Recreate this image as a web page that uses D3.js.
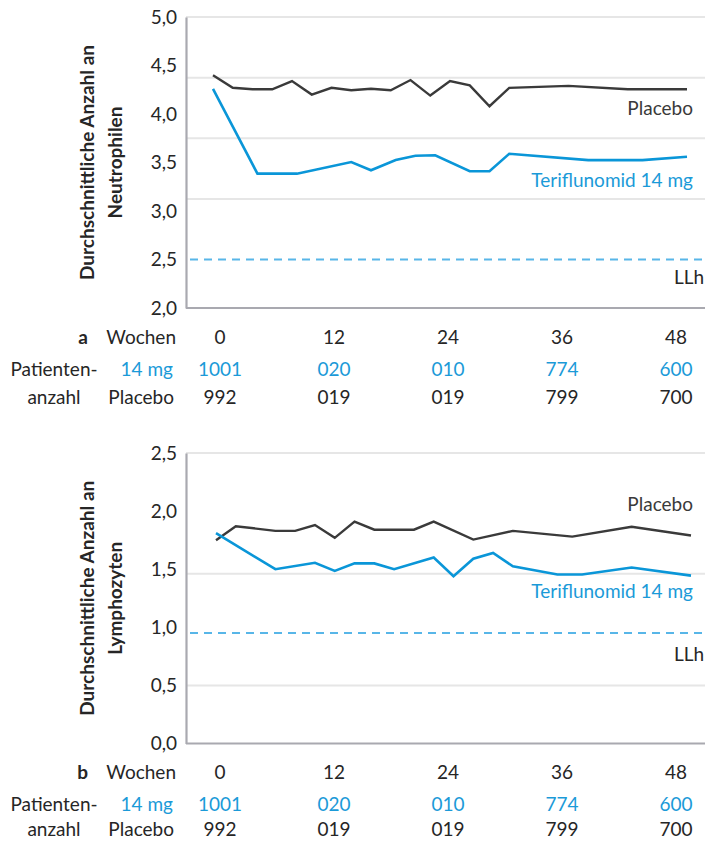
<!DOCTYPE html>
<html>
<head>
<meta charset="utf-8">
<script src="https://cdn.jsdelivr.net/npm/d3@7"></script>
<style>
  html, body { margin: 0; padding: 0; background: #fff; }
  svg { display: block; font-family: Lato, "Open Sans", sans-serif; }
</style>
</head>
<body>
<svg id="chart" width="705" height="841"></svg>
<script>
// Weeks listed in the patient-count table under each panel
const tableWeeks = [0, 12, 24, 36, 48];
const patients14mg = ["1001", "020", "010", "774", "600"];
const patientsPlacebo = ["992", "019", "019", "799", "700"];

// Panel a: mean neutrophil count
const neutroPlaceboWeeks = [0, 2, 4, 6, 8, 10, 12, 14, 16, 18, 20, 22, 24, 26, 28, 30, 36, 42, 48];
const neutroPlaceboValues = [4.40, 4.27, 4.255, 4.255, 4.34, 4.20, 4.27, 4.245, 4.26, 4.245, 4.35, 4.19, 4.34, 4.295, 4.08, 4.27, 4.29, 4.255, 4.255];
const neutroTeriWeeks = [0, 4.5, 8.5, 14, 16, 18.5, 20.5, 22.5, 26, 28, 30, 38, 43.5, 48];
const neutroTeriValues = [4.26, 3.385, 3.385, 3.505, 3.42, 3.525, 3.57, 3.575, 3.41, 3.41, 3.59, 3.525, 3.525, 3.56];
const neutroTicks = [2.0, 2.5, 3.0, 3.5, 4.0, 4.5, 5.0];
const neutroGrid = [3.125, 3.75, 4.375, 5.0];
const neutroLLN = 2.5;

// Panel b: mean lymphocyte count
const lymphoPlaceboWeeks = [0, 2, 6, 8, 10, 12, 14, 16, 20, 22, 26, 30, 36, 42, 48];
const lymphoPlaceboValues = [1.75, 1.87, 1.83, 1.83, 1.88, 1.77, 1.91, 1.84, 1.84, 1.91, 1.755, 1.83, 1.78, 1.865, 1.79];
const lymphoTeriWeeks = [0, 6, 10, 12, 14, 16, 18, 22, 24, 26, 28, 30, 34.5, 37, 42, 48];
const lymphoTeriValues = [1.81, 1.50, 1.555, 1.485, 1.55, 1.55, 1.50, 1.60, 1.44, 1.59, 1.64, 1.525, 1.455, 1.455, 1.515, 1.445];
const lymphoTicks = [0.0, 0.5, 1.0, 1.5, 2.0, 2.5];
const lymphoGrid = [0.5, 1.46, 2.5];
const lymphoLLN = 0.95;

const colors = {
  text: "#262626",
  blueText: "#1b9ad8",
  placebo: "#3a3a3a",
  teri: "#0a96d8",
  lln: "#58b6e8",
  axis: "#a9a9b0",
  grid: "#e6e6e6"
};

const de = d3.formatLocale({ decimal: ",", thousands: ".", grouping: [3], currency: ["", " €"] });
const fmt1 = de.format(".1f");

const svg = d3.select("#chart");
const W = 705;
const axisX = 186;
const FS = 19;
const tableX = d3.scaleLinear().domain([0, 48]).range([220, 676]);

function pairs(weeks, values) {
  return weeks.map((w, i) => ({ w, v: values[i] }));
}

function drawPanel(o) {
  const g = svg.append("g");
  const x = d3.scaleLinear().domain([0, 48]).range([o.x0, o.x48]);
  const y = d3.scaleLinear().domain(o.domain).range([o.bottom, o.top]);

  // horizontal grid
  g.append("g").selectAll("line").data(o.grid).join("line")
    .attr("x1", axisX).attr("x2", W)
    .attr("y1", d => y(d)).attr("y2", d => y(d))
    .attr("stroke", colors.grid).attr("stroke-width", 2);

  // lower limit of normal
  g.append("line")
    .attr("x1", axisX + 4).attr("x2", W)
    .attr("y1", y(o.lln)).attr("y2", y(o.lln))
    .attr("stroke", colors.lln).attr("stroke-width", 2)
    .attr("stroke-dasharray", "8,6");

  // baseline of the plot
  g.append("line")
    .attr("x1", axisX).attr("x2", W)
    .attr("y1", y(o.domain[0])).attr("y2", y(o.domain[0]))
    .attr("stroke", colors.axis).attr("stroke-width", 2.2);

  // value axis
  const ax = g.append("g").attr("transform", `translate(${axisX},0)`)
    .call(d3.axisLeft(y).tickValues(o.ticks).tickFormat(fmt1).tickSize(0).tickSizeOuter(0).tickPadding(9));
  ax.select(".domain").attr("stroke", colors.axis).attr("stroke-width", 2.2);
  ax.selectAll("text").attr("fill", colors.text).attr("font-size", FS).attr("font-family", "Lato, sans-serif");

  // series
  const line = d3.line().x(d => x(d.w)).y(d => y(d.v));
  g.append("path").datum(o.placebo).attr("d", line)
    .attr("fill", "none").attr("stroke", colors.placebo).attr("stroke-width", 2.4);
  g.append("path").datum(o.teri).attr("d", line)
    .attr("fill", "none").attr("stroke", colors.teri).attr("stroke-width", 2.6);

  // series labels
  g.append("text").attr("x", 693).attr("y", o.placeboLabelY).attr("text-anchor", "end")
    .attr("font-size", FS).attr("fill", colors.placebo).text("Placebo");
  g.append("text").attr("x", 693).attr("y", o.teriLabelY).attr("text-anchor", "end")
    .attr("font-size", FS).attr("fill", colors.blueText).text("Teriflunomid 14 mg");
  g.append("text").attr("x", 704).attr("y", o.llnLabelY).attr("text-anchor", "end")
    .attr("font-size", FS).attr("fill", colors.text).text("LLh");

  // y title, two lines
  const cy = (o.top + o.bottom) / 2;
  const t = g.append("text").attr("transform", `translate(94,${cy}) rotate(-90)`)
    .attr("text-anchor", "middle").attr("font-weight", 700).attr("font-size", 19).attr("fill", colors.text);
  t.append("tspan").attr("x", 0).attr("y", 0).text("Durchschnittliche Anzahl an");
  t.append("tspan").attr("x", 0).attr("y", 28).text(o.titleLine2);

  // week and patient-count table
  const tbl = g.append("g").attr("font-size", FS).attr("dominant-baseline", "central");
  const [r1, r2, r3] = o.rows;
  tbl.append("text").attr("x", 88).attr("y", r1).attr("text-anchor", "end")
    .attr("font-weight", 700).attr("fill", colors.text).text(o.letter);
  tbl.append("text").attr("x", 176).attr("y", r1).attr("text-anchor", "end")
    .attr("fill", colors.text).text("Wochen");
  tbl.append("text").attr("x", 54).attr("y", r2).attr("text-anchor", "middle")
    .attr("fill", colors.text).text("Patienten-");
  tbl.append("text").attr("x", 54).attr("y", r3).attr("text-anchor", "middle")
    .attr("fill", colors.text).text("anzahl");
  tbl.append("text").attr("x", 173).attr("y", r2).attr("text-anchor", "end")
    .attr("fill", colors.blueText).text("14 mg");
  tbl.append("text").attr("x", 174).attr("y", r3).attr("text-anchor", "end")
    .attr("fill", colors.text).text("Placebo");

  tbl.append("g").selectAll("text").data(tableWeeks).join("text")
    .attr("x", d => tableX(d)).attr("y", r1).attr("text-anchor", "middle")
    .attr("fill", colors.text).text(d => d);
  tbl.append("g").selectAll("text").data(patients14mg).join("text")
    .attr("x", (d, i) => tableX(tableWeeks[i])).attr("y", r2).attr("text-anchor", "middle")
    .attr("fill", colors.blueText).text(d => d);
  tbl.append("g").selectAll("text").data(patientsPlacebo).join("text")
    .attr("x", (d, i) => tableX(tableWeeks[i])).attr("y", r3).attr("text-anchor", "middle")
    .attr("fill", colors.text).text(d => d);
}

drawPanel({
  letter: "a",
  titleLine2: "Neutrophilen",
  domain: [2.0, 5.0], top: 17, bottom: 308,
  x0: 213, x48: 687,
  ticks: neutroTicks, grid: neutroGrid, lln: neutroLLN,
  placebo: pairs(neutroPlaceboWeeks, neutroPlaceboValues),
  teri: pairs(neutroTeriWeeks, neutroTeriValues),
  placeboLabelY: 115, teriLabelY: 187, llnLabelY: 284,
  rows: [336, 368, 396]
});

drawPanel({
  letter: "b",
  titleLine2: "Lymphozyten",
  domain: [0.0, 2.5], top: 453, bottom: 743.5,
  x0: 216, x48: 691,
  ticks: lymphoTicks, grid: lymphoGrid, lln: lymphoLLN,
  placebo: pairs(lymphoPlaceboWeeks, lymphoPlaceboValues),
  teri: pairs(lymphoTeriWeeks, lymphoTeriValues),
  placeboLabelY: 511, teriLabelY: 598, llnLabelY: 661,
  rows: [771, 803, 828]
});
</script>
</body>
</html>
